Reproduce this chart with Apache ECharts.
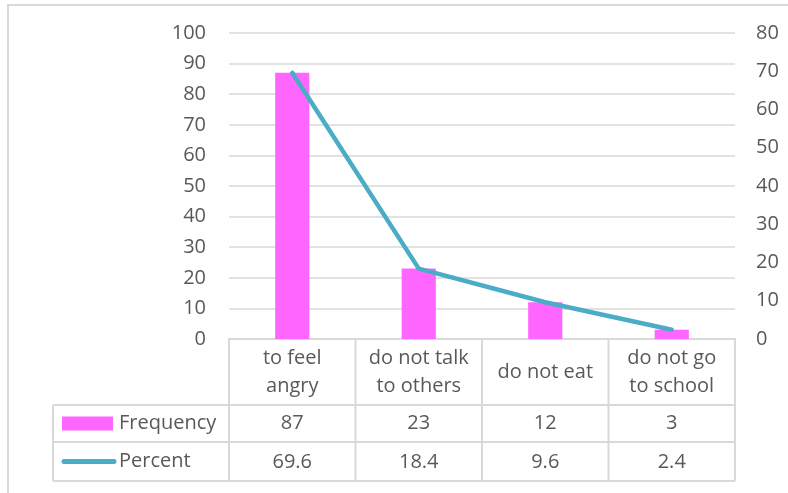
<!DOCTYPE html>
<html>
<head>
<meta charset="utf-8">
<script src="https://cdn.jsdelivr.net/npm/echarts@6/dist/echarts.min.js"></script>
<style>
  html, body { margin: 0; padding: 0; background: #fff; }
  #chart { width: 788px; height: 493px; }
</style>
</head>
<body>
<div id="chart"></div>
<script>
// Reactions and their counts / shares
const categories = ['to feel\nangry', 'do not talk\nto others', 'do not eat', 'do not go\nto school'];
const frequency = [87, 23, 12, 3];
const percent = [69.6, 18.4, 9.6, 2.4];
const seriesNames = ['Frequency', 'Percent'];

const FONT = '"Open Sans", Lato, sans-serif';
const FS = 20;
const TEXT = '#595959';
const RULE = '#d9d9d9';
const PINK = '#ff66ff';
const TEAL = '#4bacc6';

const chart = echarts.init(document.getElementById('chart'));

const gridBox = { left: 229, right: 53, top: 33, bottom: 154 };

// Extra category axes render the data-table rows under the plot
function tableRowAxis(values, margin) {
  return {
    type: 'category',
    data: values.map(String),
    position: 'bottom',
    axisLine: { show: false },
    axisTick: { show: false },
    splitLine: { show: false },
    axisLabel: {
      margin: margin,
      verticalAlign: 'middle',
      color: TEXT,
      fontFamily: FONT,
      fontSize: FS
    }
  };
}

chart.setOption({
  animation: false,
  backgroundColor: '#fff',
  grid: gridBox,
  xAxis: [
    {
      type: 'category',
      data: categories,
      position: 'bottom',
      axisLine: { show: true, lineStyle: { color: RULE, width: 2 } },
      axisTick: { show: false },
      axisLabel: {
        margin: 33,
        verticalAlign: 'middle',
        lineHeight: 28,
        color: TEXT,
        fontFamily: FONT,
        fontSize: FS,
        interval: 0
      }
    },
    tableRowAxis(frequency, 84),
    tableRowAxis(percent, 123)
  ],
  yAxis: [
    {
      type: 'value',
      min: 0, max: 100, interval: 10,
      axisLine: { show: false },
      axisTick: { show: false },
      splitLine: { lineStyle: { color: RULE, width: 1.5 } },
      axisLabel: { margin: 23, color: TEXT, fontFamily: FONT, fontSize: FS }
    },
    {
      type: 'value',
      min: 0, max: 80, interval: 10,
      position: 'right',
      axisLine: { show: false },
      axisTick: { show: false },
      splitLine: { show: false },
      axisLabel: { margin: 21, color: TEXT, fontFamily: FONT, fontSize: FS }
    }
  ],
  series: [
    {
      name: seriesNames[0],
      type: 'bar',
      data: frequency,
      xAxisIndex: 0,
      yAxisIndex: 0,
      barWidth: '27%',
      itemStyle: { color: PINK }
    },
    {
      name: seriesNames[1],
      type: 'line',
      data: percent,
      xAxisIndex: 0,
      yAxisIndex: 1,
      symbol: 'none',
      lineStyle: { color: TEAL, width: 4.5, cap: 'round', join: 'round' }
    }
  ]
});

// Data-table frame and legend keys, placed from the axis scale
function drawTable() {
  const n = categories.length;
  const c0 = chart.convertToPixel({ xAxisIndex: 0 }, 0);
  const c1 = chart.convertToPixel({ xAxisIndex: 0 }, 1);
  const band = c1 - c0;
  const x0 = c0 - band / 2;
  const xEnd = x0 + band * n;
  const yAxisPx = chart.convertToPixel({ yAxisIndex: 0 }, 0);
  const row1 = yAxisPx + 66;
  const row2 = row1 + 37;
  const row3 = row2 + 39;
  const tableLeft = 53;
  const lineStyle = { stroke: RULE, lineWidth: 2 };
  const els = [];

  // outer page frame
  els.push({ type: 'rect', shape: { x: 8, y: 5, width: 790, height: 500 }, style: { fill: null, stroke: RULE, lineWidth: 2 }, silent: true });

  for (let i = 0; i <= n; i++) {
    const x = x0 + band * i;
    els.push({ type: 'line', shape: { x1: x, y1: yAxisPx, x2: x, y2: row3 }, style: lineStyle, silent: true });
  }
  els.push({ type: 'line', shape: { x1: tableLeft, y1: row1, x2: tableLeft, y2: row3 }, style: lineStyle, silent: true });
  [row1, row2, row3].forEach(function (y) {
    els.push({ type: 'line', shape: { x1: tableLeft, y1: y, x2: xEnd, y2: y }, style: lineStyle, silent: true });
  });

  const midF = (row1 + row2) / 2;
  const midP = (row2 + row3) / 2;
  els.push({ type: 'rect', shape: { x: 62, y: midF - 7, width: 51, height: 14 }, style: { fill: PINK }, silent: true });
  els.push({ type: 'line', shape: { x1: 64, y1: midP, x2: 114, y2: midP }, style: { stroke: TEAL, lineWidth: 5, lineCap: 'round' }, silent: true });
  els.push({ type: 'text', x: 119, y: midF, style: { text: seriesNames[0], fill: TEXT, font: FS + 'px ' + FONT, textVerticalAlign: 'middle' }, silent: true });
  els.push({ type: 'text', x: 119, y: midP, style: { text: seriesNames[1], fill: TEXT, font: FS + 'px ' + FONT, textVerticalAlign: 'middle' }, silent: true });

  chart.setOption({ graphic: { elements: els } });
}
drawTable();
</script>
</body>
</html>
